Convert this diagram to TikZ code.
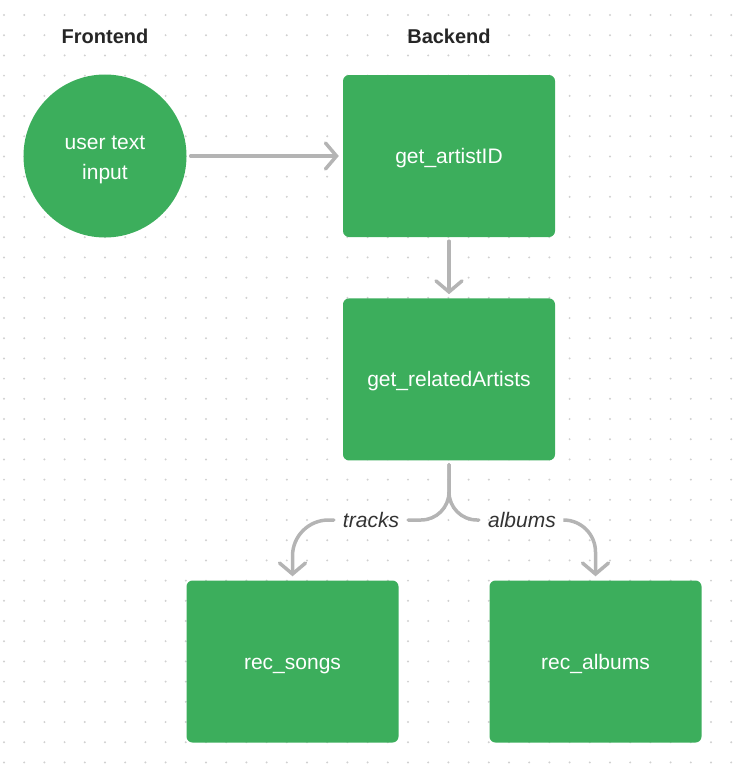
\documentclass[tikz,border=0pt]{standalone}
\usepackage{fontspec}
\setmainfont{Liberation Sans}
\usetikzlibrary{arrows.meta,positioning}

\begin{document}
\begin{tikzpicture}[x=1pt,y=-1pt,font=\fontsize{21}{30}\selectfont]
	%%% Colores
	\definecolor{boxgreen}{RGB}{60,174,92}   % verde
	\definecolor{linkgray}{RGB}{180,180,180} % gris flechas
	\definecolor{dotgray}{RGB}{208,208,208}  % puntos de fondo
	\tikzset{
		funcbox/.style={fill=boxgreen, rounded corners=6pt, minimum width=212pt,
			minimum height=162pt, text=white, text height=18pt, text depth=3pt},
		inputnode/.style={circle, fill=boxgreen, minimum size=163pt},
		inputtext/.style={text=white, align=center, yshift=-4pt},
		head/.style={font=\fontsize{20}{24}\selectfont\bfseries, text=black!85},
		edgelabel/.style={font=\fontsize{21}{24}\selectfont\itshape, text=black!80, inner sep=9pt},
		linkline/.style={draw=linkgray, line width=3.5pt, line cap=round},
		link/.style={linkline, -{Straight Barb[length=11pt,width=26pt,line cap=round]}},
	}
	\useasboundingbox (0,0) rectangle (732,772);

	%%% Fondo de puntos
	\foreach \i in {0,...,36} {
		\foreach \j in {0,...,37} {
			\fill[dotgray] (4+20.2*\i, 15+20.2*\j) circle (1.1pt);
		}
	}

	%%% Cabeceras
	\node[head] (fronthead) at (105,36) {Frontend};
	\node[head] (backhead) at (449,36) {Backend};

	%%% Nodos
	\node[inputnode, label={[inputtext]center:user text\\input}] (input) at (105,156) {};
	\node[funcbox] (artist) at (449,156) {get\_artistID};
	\node[funcbox, below=61pt of artist] (related) {get\_relatedArtists};
	\node[funcbox] (songs) at (292.5,661.5) {rec\_songs};
	\node[funcbox] (albums) at (595.5,661.5) {rec\_albums};

	%%% Etiquetas de la bifurcación
	\node[edgelabel] (tracklab) at (371,520) {tracks};
	\node[edgelabel] (albumlab) at (522,520) {albums};

	%%% Conexiones
	\draw[link, shorten <=4pt, shorten >=4pt] (input) -- (artist);
	\draw[link, shorten <=4pt, shorten >=4pt] (artist) -- (related);
	\draw[linkline, rounded corners=28pt, shorten <=4pt] (related.south) |- (tracklab.east);
	\draw[linkline, rounded corners=28pt, shorten <=4pt] (related.south) |- (albumlab.west);
	\draw[link, rounded corners=36pt, shorten >=4pt] (tracklab.west) -| (songs.north);
	\draw[link, rounded corners=32pt, shorten >=4pt] (albumlab.east) -| (albums.north);
\end{tikzpicture}
\end{document}
